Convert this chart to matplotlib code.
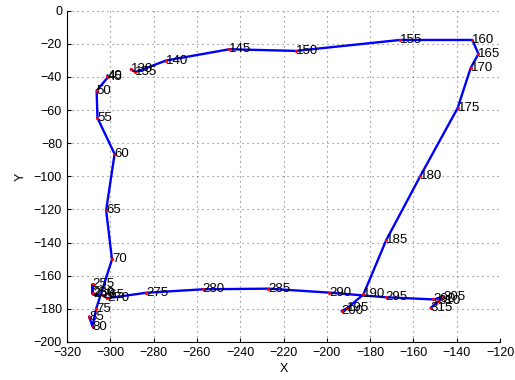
import numpy as np
import matplotlib
matplotlib.use('Agg')
import matplotlib.pyplot as plt

plt.rcParams['font.family'] = ['Liberation Sans', 'DejaVu Sans']

# three track pieces, every 5th sample labelled
idx_a = [40, 45, 50, 55, 60, 65, 70, 75, 80, 85]
x_a = [-301.3, -301.0, -306.3, -305.9, -298.0, -301.9, -299.2, -306.6, -308.2, -309.7]
y_a = [-39.2, -40.0, -48.4, -64.8, -86.5, -120.5, -150.2, -180.3, -190.7, -184.7]

idx_b = [130, 135, 140, 145, 150, 155, 160, 165, 170, 175, 180, 185, 190, 195, 200]
x_b = [-290.4, -288.4, -274.2, -245.0, -214.2, -166.2, -132.8, -130.0, -133.6, -139.6,
       -156.9, -172.6, -183.1, -190.5, -193.1]
y_b = [-35.4, -37.1, -30.1, -23.3, -24.3, -17.7, -17.7, -26.1, -34.7, -58.8,
       -100.0, -138.6, -171.3, -179.5, -181.2]

idx_c = [250, 255, 260, 265, 270, 275, 280, 285, 290, 295, 300, 305, 310, 315]
x_c = [-308.2, -308.2, -308.0, -303.5, -301.5, -283.5, -257.3, -227.0, -198.8, -172.8,
       -150.8, -146.2, -148.5, -152.0]
y_c = [-170.7, -165.2, -171.0, -171.6, -173.6, -170.3, -168.2, -167.8, -170.2, -173.0,
       -174.3, -173.0, -175.5, -179.4]

fig = plt.figure(figsize=(5.15, 3.8), dpi=100)
ax = fig.add_axes([0.130, 0.100, 0.841, 0.872])

for idx, xs, ys in [(idx_a, x_a, y_a), (idx_b, x_b, y_b), (idx_c, x_c, y_c)]:
    ax.plot(xs, ys, color='blue', linewidth=1.7, zorder=2)
    ax.plot(xs, ys, '.', color='red', markersize=2.5, zorder=3)
    for i, xx, yy in zip(idx, xs, ys):
        ax.text(xx, yy, str(i), ha='left', va='center', fontsize=9.5, zorder=4)

ax.set_xlim(-320, -120)
ax.set_ylim(-200, 0)
ax.set_xticks(np.arange(-320, -119, 20))
ax.set_yticks(np.arange(-200, 1, 20))
ax.tick_params(direction='in', labelsize=9, length=3)
ax.grid(True, linestyle=(0, (1, 3.5)), color='0.45', linewidth=0.8)
ax.spines['top'].set_visible(False)
ax.spines['right'].set_visible(False)
ax.set_xlabel('X', fontsize=9, labelpad=3)
ax.set_ylabel('Y', fontsize=9, labelpad=5)

fig.savefig('out.png', dpi=100)
